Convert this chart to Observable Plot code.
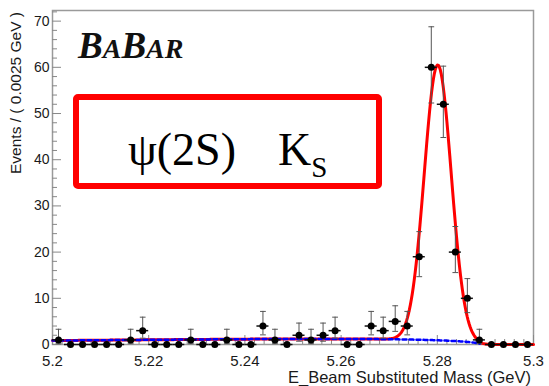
<!DOCTYPE html>
<html>
<head>
<meta charset="utf-8">
<script src="https://cdn.jsdelivr.net/npm/d3@7"></script>
<script src="https://cdn.jsdelivr.net/npm/@observablehq/plot@0.6"></script>
<style>
  html, body { margin: 0; padding: 0; background: #fff; }
  #chart { width: 549px; height: 386px; }
</style>
</head>
<body>
<div id="chart"></div>
<script>
// Binning of the mES histogram: 40 bins of 2.5 MeV from 5.20 to 5.30 GeV
const binLow = 5.2;
const binWidth = 0.0025;

// Events per bin
const counts = [1, 0, 0, 0, 0, 0, 1, 3, 0, 0,
                0, 1, 0, 0, 1, 0, 0, 4, 1, 0,
                2, 1, 2, 3, 0, 0, 4, 3, 5, 4,
                19, 60, 52, 20, 10, 1, 0, 0, 0, 0];

// Asymmetric Poisson (68%) errors per bin
const errLow = [0.827, 0, 0, 0, 0, 0, 0.827, 1.633, 0, 0,
                0, 0.827, 0, 0, 0.827, 0, 0, 1.914, 0.827, 0,
                1.291, 0.827, 1.291, 1.633, 0, 0, 1.914, 1.633, 2.159, 1.914,
                4.320, 7.724, 7.196, 4.434, 3.108, 0.827, 0, 0, 0, 0];
const errHigh = [2.299, 0, 0, 0, 0, 0, 2.299, 2.918, 0, 0,
                 0, 2.299, 0, 0, 2.299, 0, 0, 3.162, 2.299, 0,
                 2.637, 2.299, 2.637, 2.918, 0, 0, 3.162, 2.918, 3.382, 3.162,
                 5.435, 8.778, 8.253, 5.546, 4.266, 2.299, 0, 0, 0, 0];

// Fit model: Gaussian signal + ARGUS background
const sigMean = 5.2801;
const sigSigma = 0.0028;
const sigPeak = 59.6;
const bkgAtLow = 0.85;      // background height at 5.20 GeV
const argusEnd = 5.289;
const argusShape = -40;

// Axes
const xMajor = [5.2, 5.22, 5.24, 5.26, 5.28, 5.3];
const xMinor = [5.202, 5.204, 5.206, 5.208, 5.212, 5.214, 5.216, 5.218,
                5.222, 5.224, 5.226, 5.228, 5.232, 5.234, 5.236, 5.238,
                5.242, 5.244, 5.246, 5.248, 5.252, 5.254, 5.256, 5.258,
                5.262, 5.264, 5.266, 5.268, 5.272, 5.274, 5.276, 5.278,
                5.282, 5.284, 5.286, 5.288, 5.292, 5.294, 5.296, 5.298];
const xTickLabels = ["5.2", "5.22", "5.24", "5.26", "5.28", "5.3"];
const yMajor = [0, 10, 20, 30, 40, 50, 60, 70];
const yMinor = [2, 4, 6, 8, 12, 14, 16, 18, 22, 24, 26, 28, 32, 34, 36, 38,
                42, 44, 46, 48, 52, 54, 56, 58, 62, 64, 66, 68, 72];
const yMax = 72.3;

const xTitle = "E_Beam Substituted Mass (GeV)";
const yTitle = "Events / ( 0.0025 GeV )";

// Layout
const W = 549, H = 386;
const mL = 52, mR = 16, mT = 10, mB = 42;
const innerW = W - mL - mR, innerH = H - mT - mB;

const bins = counts.map((n, i) => ({
  m: binLow + binWidth * (i + 0.5),
  lo: binLow + binWidth * i,
  hi: binLow + binWidth * (i + 1),
  n,
  yLo: n - errLow[i],
  yHi: n + errHigh[i]
}));
const withErr = bins.filter(d => d.n > 0);

function argusRaw(m) {
  const r = m / argusEnd;
  const t = 1 - r * r;
  if (t <= 0) return 0;
  return m * Math.sqrt(t) * Math.exp(argusShape * t);
}
const argusNorm = bkgAtLow / argusRaw(5.2);
function bkg(m) { return argusNorm * argusRaw(m); }
function total(m) {
  const z = (m - sigMean) / sigSigma;
  return sigPeak * Math.exp(-0.5 * z * z) + bkg(m);
}

// sample positions along the mass axis for the fitted curves
const samples = d3.range(0, 501).map(k => 5.2 + 0.1 * k / 500);
const curve = samples.map(m => ({ m, total: total(m), bkg: bkg(m) }));
const bkgCurve = curve.filter(d => d.m <= argusEnd);

const capHalf = 0.0006;

const chart = Plot.plot({
  width: W,
  height: H,
  marginLeft: mL,
  marginRight: mR,
  marginTop: mT,
  marginBottom: mB,
  style: { fontFamily: "'Liberation Sans', Arial, sans-serif", fontSize: "14px", color: "#1a1a1a", background: "#fff" },
  x: { domain: [5.2, 5.3] },
  y: { domain: [0, yMax] },
  marks: [
    Plot.frame({ stroke: "#9a9a9a", strokeWidth: 1.5 }),
    Plot.tickX(xMinor, { x: d => d, insetTop: innerH - 5, stroke: "#888", strokeWidth: 1 }),
    Plot.tickX(xMajor, { x: d => d, insetTop: innerH - 9, stroke: "#888", strokeWidth: 1 }),
    Plot.tickY(yMinor, { y: d => d, insetRight: innerW - 5, stroke: "#888", strokeWidth: 1 }),
    Plot.tickY(yMajor, { y: d => d, insetRight: innerW - 9, stroke: "#888", strokeWidth: 1 }),
    Plot.axisX({ ticks: xMajor, tickSize: 0, tickPadding: 11, label: null, fontSize: 15,
                 tickFormat: (d, i) => xTickLabels[i], fill: "#1a1a1a" }),
    Plot.axisY({ ticks: yMajor, tickSize: 0, tickPadding: 3, label: null, fontSize: 14, fill: "#1a1a1a" }),
    Plot.line(curve, { x: "m", y: "total", stroke: "#ff0000", strokeWidth: 3, curve: "linear" }),
    Plot.line(bkgCurve, { x: "m", y: "bkg", stroke: "#0000ff", strokeWidth: 2.5, strokeDasharray: "4,3" }),
    Plot.ruleX(withErr, { x: "m", y1: "yLo", y2: "yHi", stroke: "#555", strokeWidth: 1 }),
    Plot.link(withErr, { x1: d => d.m - capHalf, x2: d => d.m + capHalf, y1: "yHi", y2: "yHi", stroke: "#555", strokeWidth: 1 }),
    Plot.link(withErr, { x1: d => d.m - capHalf, x2: d => d.m + capHalf, y1: "yLo", y2: "yLo", stroke: "#555", strokeWidth: 1 }),
    Plot.ruleY(bins, { y: "n", x1: "lo", x2: "hi", stroke: "#111", strokeWidth: 1.5 }),
    Plot.dot(bins, { x: "m", y: "n", r: 3.5, fill: "#000", stroke: "none" })
  ]
});

const svg = d3.select(chart);
const sans = "'Liberation Sans', Arial, sans-serif";
const serif = "'Liberation Serif', 'Times New Roman', serif";

// axis titles
svg.append("text")
  .attr("transform", "translate(21,12) rotate(-90)")
  .attr("text-anchor", "end")
  .attr("font-family", sans)
  .attr("font-size", 15.5)
  .attr("fill", "#1a1a1a")
  .text(yTitle);

svg.append("text")
  .attr("x", 531).attr("y", 383)
  .attr("text-anchor", "end")
  .attr("font-family", sans)
  .attr("font-size", 16.5)
  .attr("fill", "#1a1a1a")
  .text(xTitle);

// experiment logo
const logo = svg.append("text")
  .attr("x", 78).attr("y", 58)
  .attr("text-anchor", "start")
  .attr("font-family", serif)
  .attr("font-style", "italic")
  .attr("font-weight", "bold")
  .attr("fill", "#111");
[["B", 37], ["A", 28], ["B", 37], ["AR", 28]].forEach(([t, s]) =>
  logo.append("tspan").attr("font-size", s).text(t));

// decay-channel label in a red box
svg.append("rect")
  .attr("x", 76).attr("y", 97)
  .attr("width", 303).attr("height", 89)
  .attr("rx", 2)
  .attr("fill", "none")
  .attr("stroke", "#ff0000")
  .attr("stroke-width", 6);

svg.append("text")
  .attr("x", 128).attr("y", 165)
  .attr("text-anchor", "start")
  .attr("font-family", serif)
  .attr("font-size", 46)
  .attr("fill", "#000")
  .text("ψ(2S)");

const ks = svg.append("text")
  .attr("x", 278).attr("y", 165)
  .attr("text-anchor", "start")
  .attr("font-family", serif)
  .attr("font-size", 46)
  .attr("fill", "#000");
ks.append("tspan").text("K");
ks.append("tspan").attr("font-size", 29).attr("dy", 12).text("S");

document.getElementById("chart").appendChild(chart);
</script>
</body>
</html>
